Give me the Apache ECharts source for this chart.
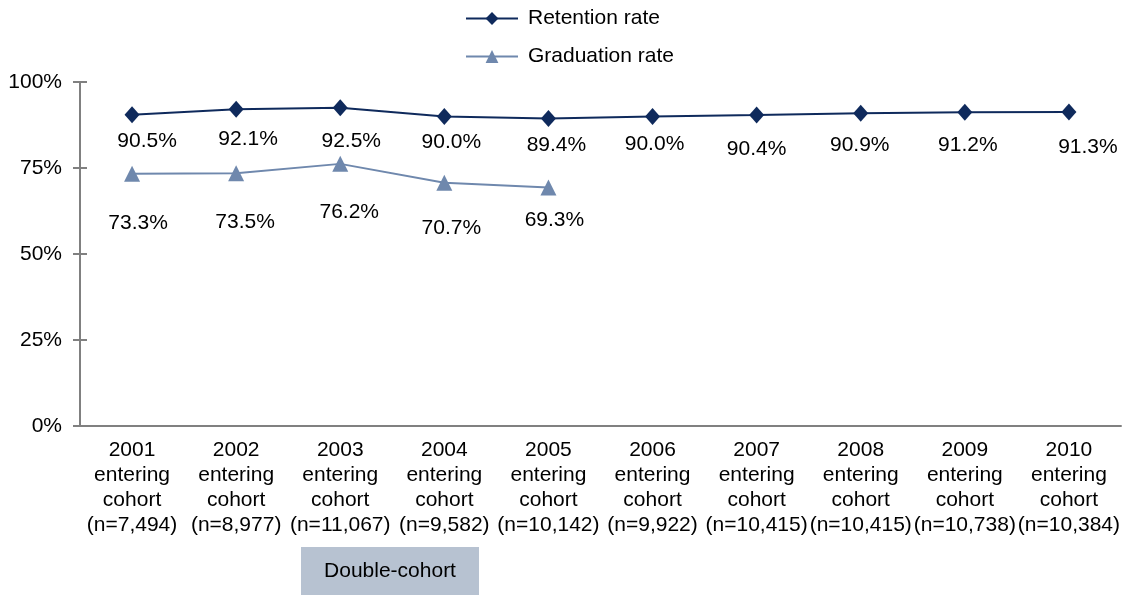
<!DOCTYPE html>
<html><head><meta charset="utf-8">
<script src="https://cdn.jsdelivr.net/npm/echarts@6/dist/echarts.min.js"></script>
<style>html,body{margin:0;padding:0;background:#fff}#c{width:1123px;height:595px}</style>
</head><body><div id="c"></div>
<script>
const categories = ["2001\nentering\ncohort\n(n=7,494)","2002\nentering\ncohort\n(n=8,977)","2003\nentering\ncohort\n(n=11,067)","2004\nentering\ncohort\n(n=9,582)","2005\nentering\ncohort\n(n=10,142)","2006\nentering\ncohort\n(n=9,922)","2007\nentering\ncohort\n(n=10,415)","2008\nentering\ncohort\n(n=10,415)","2009\nentering\ncohort\n(n=10,738)","2010\nentering\ncohort\n(n=10,384)"];
const retention = [90.5,92.1,92.5,90.0,89.4,90.0,90.4,90.9,91.2,91.3];
const graduation = [73.3,73.5,76.2,70.7,69.3,null,null,null,null,null];
const yTicks = [0,25,50,75,100];
// label nudges (style only, as in the source's manually placed labels)
const retLabelNudge = [[15,27],[12,30],[11,33],[7,26],[8,27],[2,28],[0,34],[-1,32],[3,33],[19,35]];
const gradLabelNudge = [[6,49],[9,49],[9,48],[7,45],[6,33]];
const FONT = 'Liberation Sans, Arial, sans-serif';
const fmt = p => p.value.toFixed(1) + '%';
function withLabels(vals, nudges){
  return vals.map((v,i) => v == null ? v : ({value:v, label:{offset:nudges[i]}}));
}
const chart = echarts.init(document.getElementById('c'));
chart.setOption({
  animation:false,
  textStyle:{fontFamily:FONT},
  legend:{orient:'vertical',left:460,top:3,itemGap:17,itemWidth:52,itemHeight:16,
    textStyle:{fontFamily:FONT,fontSize:21,color:'#000',padding:[0,0,0,5]},
    data:['Retention rate','Graduation rate']},
  grid:{left:80,right:2,top:82,bottom:169,containLabel:false},
  xAxis:{type:'category',data:categories,boundaryGap:true,
    axisLine:{lineStyle:{color:'#808080',width:2}},axisTick:{show:false},
    axisLabel:{interval:0,fontFamily:FONT,fontSize:21,color:'#000',lineHeight:25,margin:12}},
  yAxis:[
    {type:'value',min:0,max:100,interval:25,
      splitLine:{show:false},
      axisLine:{show:true,lineStyle:{color:'#808080',width:2}},
      axisTick:{show:true,length:7,lineStyle:{color:'#808080',width:2}},
      axisLabel:{fontFamily:FONT,fontSize:21,color:'#000',margin:18,formatter:v=>v+'%'}},
    {type:'value',min:0,max:100,interval:25,position:'left',offset:0,
      splitLine:{show:false},
      axisLine:{show:true,lineStyle:{color:'#808080',width:2}},
      axisTick:{show:true,inside:true,length:7,lineStyle:{color:'#808080',width:2}},
      axisLabel:{show:false}}
  ],
  series:[
    {name:'Retention rate',type:'line',data:withLabels(retention,retLabelNudge),symbol:'diamond',symbolSize:[15,17],
      lineStyle:{color:'#0f2a5c',width:2},itemStyle:{color:'#0f2a5c'},
      label:{show:true,position:'inside',fontFamily:FONT,fontSize:21,color:'#000',formatter:fmt}},
    {name:'Graduation rate',type:'line',data:withLabels(graduation,gradLabelNudge),symbol:'triangle',symbolSize:16,
      lineStyle:{color:'#6f88ad',width:2},itemStyle:{color:'#6f88ad'},
      label:{show:true,position:'inside',fontFamily:FONT,fontSize:21,color:'#000',formatter:fmt}}
  ],
  graphic:[
    {type:'rect',left:301,top:547,shape:{width:178,height:48},style:{fill:'#b7c2d1'}},
    {type:'text',x:390,y:571,style:{text:'Double-cohort',font:'21px '+FONT,fill:'#000',align:'center',verticalAlign:'middle'}}
  ]
});
</script></body></html>
